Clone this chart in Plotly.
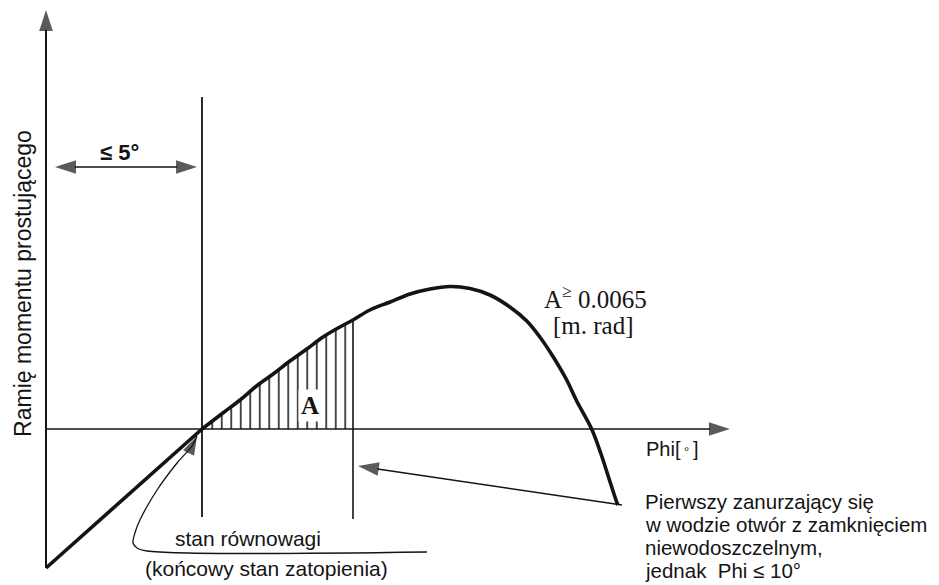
import plotly.graph_objects as go

# righting lever curve (schematic), phi in degrees, GZ in m
phi_line = [0.0, 5.0]
gz_line = [-0.139, 0.0]

phi_curve = [5.0, 5.67, 6.22, 6.75, 7.28, 7.82, 8.36, 8.88, 9.42, 9.84, 10.38,
             11.03, 11.67, 12.31, 12.95, 13.59, 14.23, 14.87, 15.41, 15.83, 16.26,
             16.69, 17.01, 17.49, 17.79, 18.03, 18.27, 18.33]
gz_curve = [0.0, 0.016, 0.029, 0.043, 0.055, 0.068, 0.080, 0.092, 0.102, 0.109, 0.119,
            0.127, 0.135, 0.140, 0.1425, 0.1405, 0.134, 0.122, 0.108, 0.092, 0.072,
            0.049, 0.028, 0.0, -0.025, -0.048, -0.071, -0.076]

phi_eq = 5.0          # equilibrium (final flooding state)
phi_open = 9.84       # first unprotected opening immersed

# guide / arrow paths
axis_y_top = 0.419
axis_y_bottom = -0.139
axis_x_end = 21.92
eq_line_y = [-0.088, 0.332]
open_line_y = [-0.090, 0.109]
dim_y = 0.262
dim_x = [0.29, 4.84]
opening_arrow_x = [18.46, 10.0]
opening_arrow_y = [-0.076, -0.037]
hook_x = [12.21, 3.24, 2.92, 2.79, 2.85, 3.01, 3.56, 4.20, 4.68, 4.84]
hook_y = [-0.123, -0.122, -0.119, -0.114, -0.104, -0.091, -0.061, -0.034, -0.017, -0.007]

note_lines = ["Pierwszy zanurzający się", "w wodzie otwór z zamknięciem",
              "niewodoszczelnym,", "jednak  Phi ≤ 10°"]
note_y = [-0.072, -0.095, -0.118, -0.141]

INK = "#141414"
SANS = "Liberation Sans, Arial, sans-serif"
SERIF = "Liberation Serif, Times New Roman, serif"

fig = go.Figure()

# hatched area A
hatch_x = [p for p in phi_curve if p <= phi_open]
hatch_y = gz_curve[:len(hatch_x)]
fig.add_trace(go.Scatter(
    x=hatch_x, y=hatch_y, mode="lines", fill="tozeroy",
    line=dict(width=0, color=INK, shape="spline"),
    fillpattern=dict(shape="|", size=9.5, solidity=0.16, fgcolor=INK,
                     bgcolor="white", fillmode="replace"),
    hoverinfo="skip",
))


def arrow(x, y, width=1.6, head=22, shape="linear"):
    sizes = [0] * (len(x) - 1) + [head]
    fig.add_trace(go.Scatter(
        x=x, y=y, mode="lines+markers",
        line=dict(color=INK, width=width, shape=shape),
        marker=dict(symbol="arrow", size=sizes, color=INK, angleref="previous",
                    line=dict(width=0)),
        hoverinfo="skip",
    ))


def line(x, y, width=1.6, shape="linear"):
    fig.add_trace(go.Scatter(x=x, y=y, mode="lines",
                             line=dict(color=INK, width=width, shape=shape),
                             hoverinfo="skip"))


# axes with arrows
arrow([0, 0], [axis_y_bottom, axis_y_top], width=2)
arrow([0, axis_x_end], [0, 0], width=1.6)

# vertical guide lines
line([phi_eq, phi_eq], eq_line_y, width=1.8)
line([phi_open, phi_open], open_line_y, width=1.6)

# dimension arrow <= 5 deg
mid = (dim_x[0] + dim_x[1]) / 2
arrow([mid, dim_x[0]], [dim_y, dim_y], width=1.6)
arrow([mid, dim_x[1]], [dim_y, dim_y], width=1.6)

# arrow from the note to the opening line
arrow(opening_arrow_x, opening_arrow_y, width=1.5)

# hook arrow to the equilibrium point
arrow(hook_x, hook_y, width=1.3, head=20, shape="spline")

# GZ curve: straight part below equilibrium, smooth part above
line(phi_line, gz_line, width=3.6)
line(phi_curve, gz_curve, width=3.6, shape="spline")

ann = [
    dict(x=2.37, y=0.277, text="<b>≤ 5°</b>", font=dict(family=SANS, size=22, color=INK)),
    dict(x=8.46, y=0.024, text="<b>A</b>", bgcolor="white", borderpad=2,
         font=dict(family=SERIF, size=25, color=INK)),
    dict(x=17.6, y=0.132, text="A<sup>≥</sup> 0.0065",
         font=dict(family=SERIF, size=25, color=INK)),
    dict(x=17.56, y=0.104, text="[m. rad]", font=dict(family=SERIF, size=25, color=INK)),
    dict(x=20.06, y=-0.020, text="Phi[<span style='font-size:13px'> ° </span>]",
         font=dict(family=SANS, size=20, color=INK)),
    dict(x=6.47, y=-0.109, text="stan równowagi",
         font=dict(family=SANS, size=21, color=INK)),
    dict(x=7.08, y=-0.139, text="(końcowy stan zatopienia)",
         font=dict(family=SANS, size=21, color=INK)),
    dict(x=-0.74, y=0.146, text="Ramię momentu prostującego", textangle=-90,
         font=dict(family=SANS, size=23, color=INK)),
]
for t, yy in zip(note_lines, note_y):
    ann.append(dict(x=19.12, y=yy, xanchor="left", text=t,
                    font=dict(family=SANS, size=20.5, color=INK)))
for a in ann:
    fig.add_annotation(xref="x", yref="y", showarrow=False, **a)

# the page body adds an 8px offset, so ranges are shifted by 8px to keep
# the drawing where it sits in the reference
fig.update_layout(
    width=939, height=585,
    margin=dict(l=0, r=0, t=0, b=0),
    paper_bgcolor="white", plot_bgcolor="white",
    showlegend=False,
    xaxis=dict(range=[-1.218, 28.88], visible=False, fixedrange=True),
    yaxis=dict(range=[-0.164, 0.421], visible=False, fixedrange=True),
)

fig.write_html("out.html")
